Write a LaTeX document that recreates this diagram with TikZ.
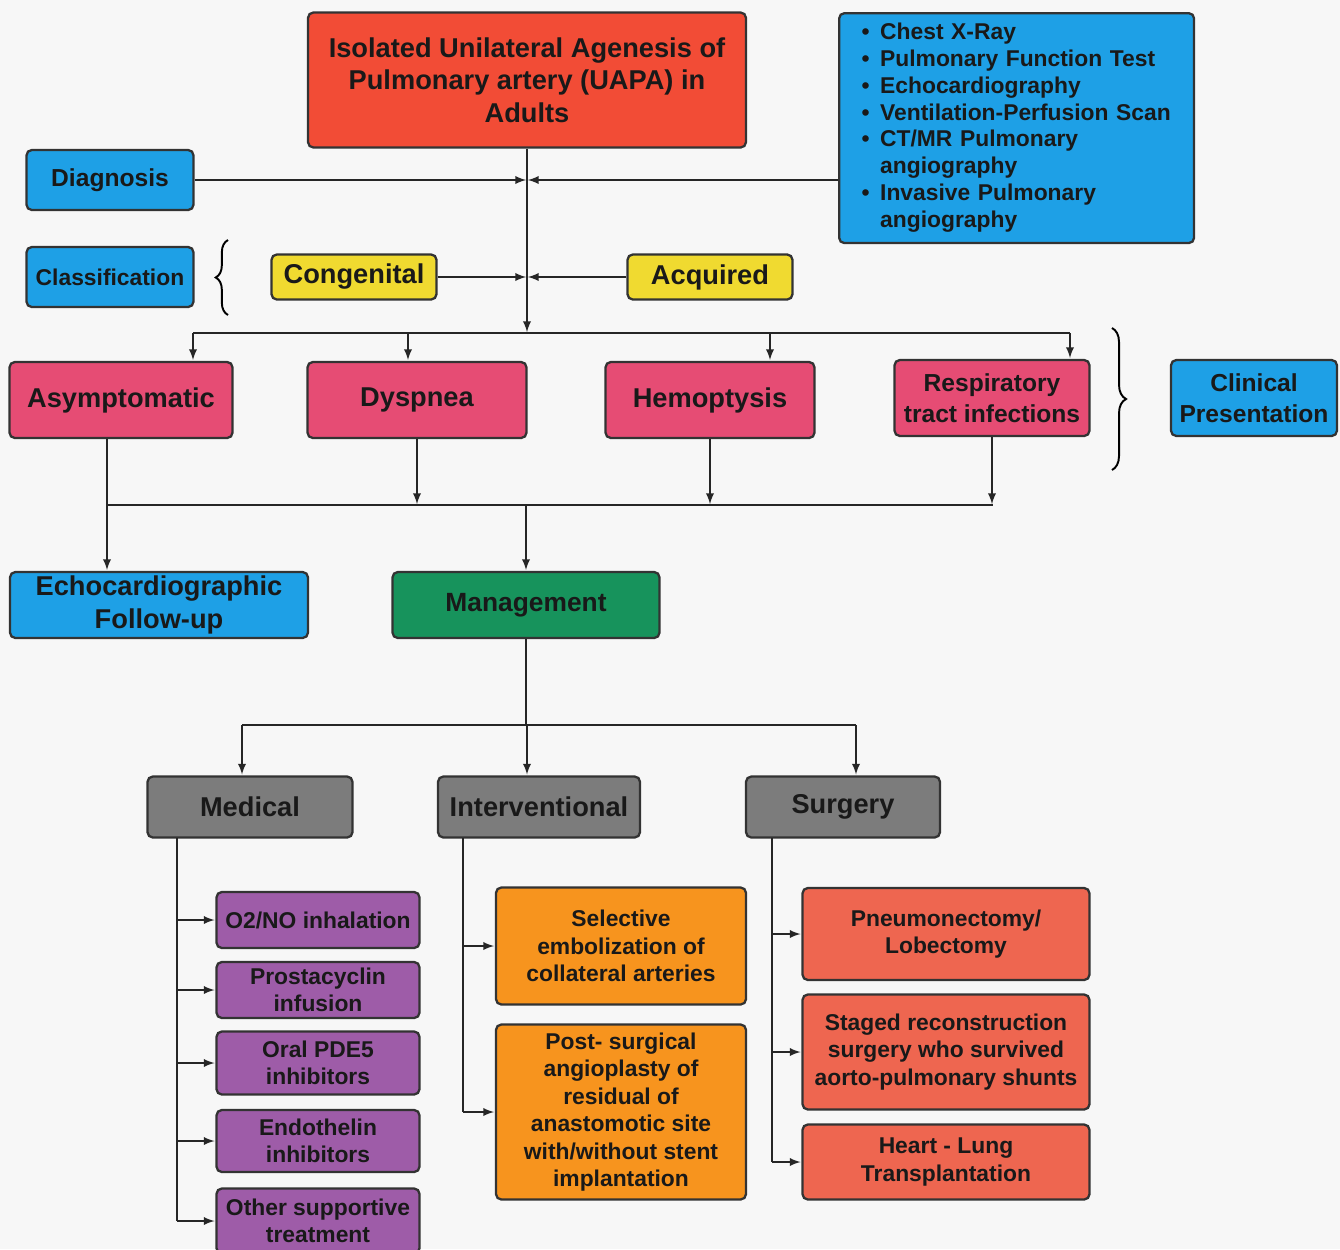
\documentclass[tikz,border=0pt]{standalone}
\usepackage{fontspec}
\setmainfont{Liberation Sans}
\usetikzlibrary{arrows,decorations.pathreplacing}
\definecolor{uapared}{HTML}{F24C36}
\definecolor{uapablue}{HTML}{1EA0E6}
\definecolor{uapayellow}{HTML}{F0DA30}
\definecolor{uapapink}{HTML}{E64C74}
\definecolor{uapagreen}{HTML}{17935C}
\definecolor{uapagray}{HTML}{7C7C7C}
\definecolor{uapapurple}{HTML}{9E5CA8}
\definecolor{uapaorange}{HTML}{F7941E}
\definecolor{uapasalmon}{HTML}{EE6650}
\tikzset{
    box/.style={draw=black!80, line width=1.3pt, rounded corners=3pt, align=center, inner sep=2pt, text=black!90},
    big/.style={font=\bfseries\fontsize{15.5}{18.5}\selectfont},
    mid/.style={font=\bfseries\fontsize{14}{17.6}\selectfont},
    small/.style={font=\bfseries\fontsize{13}{15.6}\selectfont},
    redbox/.style={box, fill=uapared},
    bluebox/.style={box, fill=uapablue},
    yellowbox/.style={box, fill=uapayellow},
    pinkbox/.style={box, fill=uapapink},
    greenbox/.style={box, fill=uapagreen},
    graybox/.style={box, fill=uapagray},
    purplebox/.style={box, fill=uapapurple},
    orangebox/.style={box, fill=uapaorange},
    salmonbox/.style={box, fill=uapasalmon},
    link/.style={line width=1.1pt, black!85},
    arrow/.style={link, -latex, shorten >=0.5pt}
}

\begin{document}
\begin{tikzpicture}
  [
    x                       = 0.02cm,
    y                       = -0.02cm,
  ]
  \useasboundingbox (0,0) rectangle (1340,1249);
  \clip (0,0) rectangle (1340,1249);
  \fill[white!97!black] (0,0) rectangle (1340,1249);

  \node [redbox, font=\bfseries\fontsize{15.5}{18.5}\selectfont, minimum width=8.76cm, minimum height=2.7cm] (title) at (527,80)
    {Isolated Unilateral Agenesis of\\Pulmonary artery (UAPA) in\\Adults};
  \node [bluebox, anchor=north west, align=left, text width=6.2cm, inner xsep=0.45cm, minimum width=7.08cm, minimum height=4.6cm,
         font=\bfseries\fontsize{13}{15.3}\selectfont] (tests) at (838,12)
    {\begin{tabular}{@{}l@{\hspace{6pt}}l@{}}
      \textbullet & Chest X-Ray\\
      \textbullet & Pulmonary Function Test\\
      \textbullet & Echocardiography\\
      \textbullet & Ventilation-Perfusion Scan\\
      \textbullet & CT/MR Pulmonary\\
                  & angiography\\
      \textbullet & Invasive Pulmonary\\
                  & angiography
    \end{tabular}};
  \node [bluebox, mid, minimum width=3.34cm, minimum height=1.2cm] (diagnosis) at (110,180) {Diagnosis};
  \node [bluebox, font=\bfseries\fontsize{13}{15}\selectfont, minimum width=3.34cm, minimum height=1.2cm] (classification) at (110,277) {Classification};
  \node [yellowbox, big, minimum width=3.3cm, minimum height=0.9cm] (congenital) at (354,277) {Congenital};
  \node [yellowbox, big, minimum width=3.3cm, minimum height=0.9cm] (acquired) at (710,277) {Acquired};

  \node [pinkbox, big, minimum width=4.46cm, minimum height=1.52cm] (asym) at (121,400) {Asymptomatic};
  \node [pinkbox, big, minimum width=4.38cm, minimum height=1.52cm] (dysp) at (417,400) {Dyspnea};
  \node [pinkbox, big, minimum width=4.18cm, minimum height=1.52cm] (hemo) at (710,400) {Hemoptysis};
  \node [pinkbox, mid, minimum width=3.9cm, minimum height=1.52cm] (resp) at (992,398) {Respiratory\\tract infections};
  \node [bluebox, mid, minimum width=3.32cm, minimum height=1.52cm] (clinical) at (1254,398) {Clinical\\Presentation};

  \node [bluebox, big, minimum width=5.96cm, minimum height=1.32cm] (echo) at (159,605) {Echocardiographic\\Follow-up};
  \node [greenbox, big, font=\bfseries\fontsize{15}{18}\selectfont, minimum width=5.34cm, minimum height=1.32cm] (manage) at (526,605) {Management};

  \node [graybox, big, minimum width=4.1cm, minimum height=1.22cm] (medical) at (250,807) {Medical};
  \node [graybox, big, minimum width=4.04cm, minimum height=1.22cm] (interv) at (539,807) {Interventional};
  \node [graybox, big, minimum width=3.88cm, minimum height=1.22cm] (surgery) at (843,807) {Surgery};

  \node [purplebox, small, minimum width=4.06cm, minimum height=1.12cm] (med1) at (318,920) {O2/NO inhalation};
  \node [purplebox, small, minimum width=4.06cm, minimum height=1.12cm] (med2) at (318,990) {Prostacyclin\\infusion};
  \node [purplebox, small, minimum width=4.06cm, minimum height=1.26cm] (med3) at (318,1063) {Oral PDE5\\inhibitors};
  \node [purplebox, small, minimum width=4.06cm, minimum height=1.24cm] (med4) at (318,1141) {Endothelin\\inhibitors};
  \node [purplebox, small, minimum width=4.06cm, minimum height=1.3cm] (med5) at (318,1221) {Other supportive\\treatment};

  \node [orangebox, small, minimum width=5cm, minimum height=2.34cm] (int1) at (621,946)
    {Selective\\embolization of\\collateral arteries};
  \node [orangebox, small, minimum width=5cm, minimum height=3.5cm] (int2) at (621,1112)
    {Post- surgical\\angioplasty of\\residual of\\anastomotic site\\with/without stent\\implantation};

  \node [salmonbox, small, minimum width=5.74cm, minimum height=1.84cm] (sur1) at (946,934) {Pneumonectomy/\\Lobectomy};
  \node [salmonbox, small, minimum width=5.74cm, minimum height=2.3cm] (sur2) at (946,1052)
    {Staged reconstruction\\surgery who survived\\aorto-pulmonary shunts};
  \node [salmonbox, small, minimum width=5.74cm, minimum height=1.5cm] (sur3) at (946,1162) {Heart - Lung\\Transplantation};

  \coordinate (hub) at (527,333);
  \draw [arrow] (title.south) -- (hub);
  \draw [arrow] (diagnosis.east) -- (diagnosis.east -| hub);
  \draw [arrow] (tests.west |- diagnosis.east) -- (diagnosis.east -| hub);
  \draw [arrow] (congenital.east) -- (congenital.east -| hub);
  \draw [arrow] (acquired.west) -- (acquired.west -| hub);
  \draw [decorate, decoration={brace, amplitude=7pt}, line width=1.1pt] (228,315) -- (228,240);

  \coordinate (b1) at (193,333);
  \coordinate (b2) at (408,333);
  \coordinate (b3) at (770,333);
  \coordinate (b4) at (1070,333);
  \draw [link] (b1) -- (b4);
  \draw [arrow] (b1) -- (b1 |- asym.north);
  \draw [arrow] (b2) -- (b2 |- dysp.north);
  \draw [arrow] (b3) -- (b3 |- hemo.north);
  \draw [arrow] (b4) -- (b4 |- resp.north);
  \draw [decorate, decoration={brace, amplitude=8pt}, line width=1.1pt] (1112,328) -- (1112,470);

  \coordinate (c1) at (107,505);
  \coordinate (c2) at (993,505);
  \draw [link] (c1) -- (c2);
  \draw [link] (asym.south -| c1) -- (c1);
  \draw [arrow] (dysp.south) -- (dysp.south |- c1);
  \draw [arrow] (hemo.south) -- (hemo.south |- c1);
  \draw [arrow] (resp.south) -- (resp.south |- c1);
  \draw [arrow] (c1) -- (echo.north -| c1);
  \draw [arrow] (c1 -| manage.north) -- (manage.north);

  \coordinate (d1) at (242,725);
  \coordinate (d2) at (527,725);
  \coordinate (d3) at (856,725);
  \draw [link] (manage.south) -- (manage.south |- d1);
  \draw [link] (d1) -- (d3);
  \draw [arrow] (d1) -- (d1 |- medical.north);
  \draw [arrow] (d2) -- (d2 |- interv.north);
  \draw [arrow] (d3) -- (d3 |- surgery.north);

  \coordinate (m0) at (177,838);
  \draw [link] (m0) -- (m0 |- med5.west);
  \foreach \n in {med1,med2,med3,med4,med5}
    \draw [arrow] (m0 |- \n.west) -- (\n.west);
  \coordinate (i0) at (463,838);
  \draw [link] (i0) -- (i0 |- int2.west);
  \foreach \n in {int1,int2}
    \draw [arrow] (i0 |- \n.west) -- (\n.west);
  \coordinate (s0) at (772,838);
  \draw [link] (s0) -- (s0 |- sur3.west);
  \foreach \n in {sur1,sur2,sur3}
    \draw [arrow] (s0 |- \n.west) -- (\n.west);
\end{tikzpicture}
\end{document}
